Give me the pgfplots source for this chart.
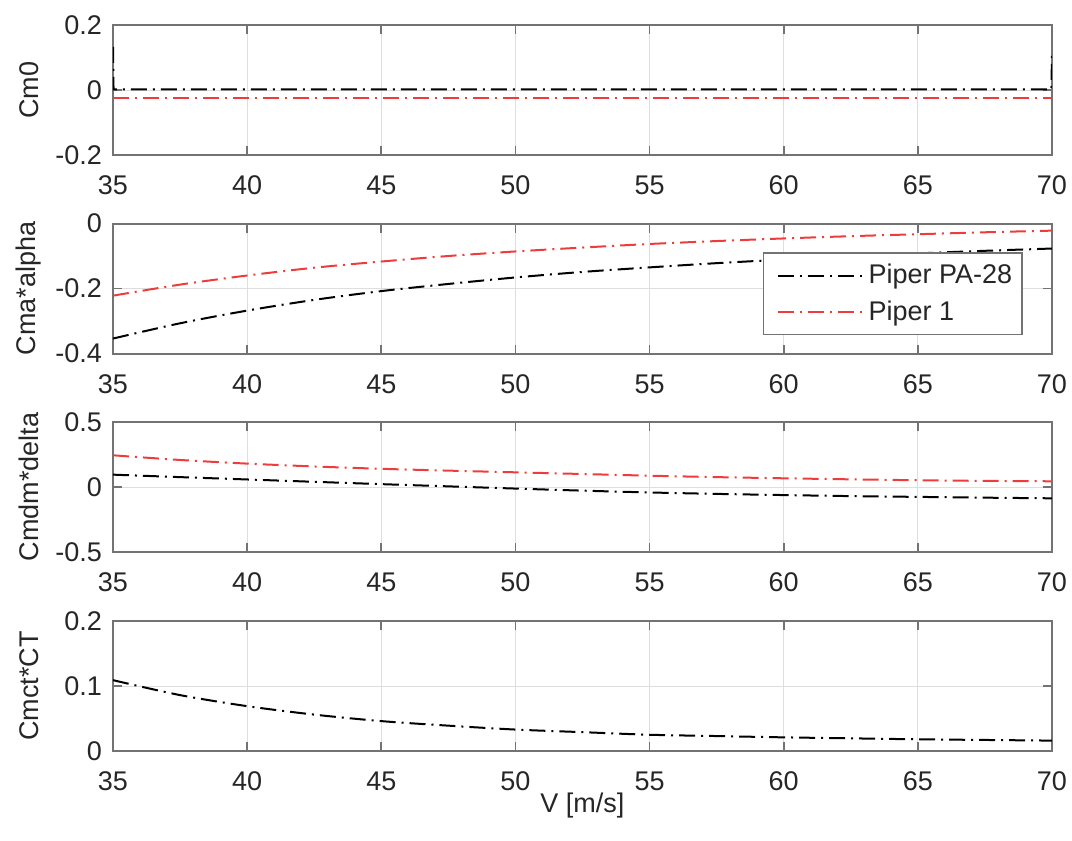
\documentclass[border=0pt]{standalone}
\usepackage{fontspec}
\setmainfont{Liberation Sans}
\usepackage{pgfplots}
\pgfplotsset{compat=1.18}
\definecolor{axgray}{gray}{0.45}
\definecolor{txt}{gray}{0.15}
\definecolor{gridc}{gray}{0.87}
\definecolor{mred}{RGB}{238,60,60}
\tikzset{dd/.style={line width=1pt, dash pattern=on 8pt off 3pt on 1pt off 3pt}}
\pgfplotsset{panel/.style={
  scale only axis, width=469.5pt, height=65pt,
  xmin=35, xmax=70, xtick={35,40,...,70},
  xticklabels={35,40,45,50,55,60,65,70},
  grid=major, major grid style={gridc, line width=0.5pt},
  axis line style={axgray, line width=1pt},
  tick style={axgray, line width=0.8pt},
  major tick length=4.5pt, tick align=inside, xtick pos=both, ytick pos=both,
  ticklabel style={font=\fontsize{13.5}{16}\selectfont, text=txt},
  xticklabel style={yshift=-7pt},
  yticklabel style={xshift=-2pt},
  label style={font=\fontsize{13.5}{16}\selectfont, text=txt},
  ylabel style={at={(axis description cs:-0.0895,0.5)}, anchor=center},
  anchor=north west,
}}
\begin{document}
\begin{tikzpicture}
\useasboundingbox (0,0) rectangle (536pt,-420.5pt);
% Panel 1
\begin{axis}[panel, at={(56.5pt,-12.5pt)}, ymin=-0.2, ymax=0.2,
  ytick={-0.2,0,0.2}, yticklabels={-0.2,0,0.2}, ylabel={Cm0}]
\addplot[dd, black] coordinates {(35,0.133) (35.02,0.002) (69.98,0.002) (70,0.117)};
\addplot[dd, mred] coordinates {(35,-0.026) (70,-0.026)};
\end{axis}
% Panel 2
\begin{axis}[panel, at={(56.5pt,-111.75pt)}, ymin=-0.4, ymax=0,
  ytick={-0.4,-0.2,0}, yticklabels={-0.4,-0.2,0}, ylabel={Cma*alpha},
  legend style={at={(0.969,0.777)}, anchor=north east, draw=axgray, line width=0.8pt,
    font=\fontsize{13.5}{16}\selectfont, text=txt, row sep=3pt, inner xsep=3pt, inner ysep=3.5pt},
  legend cell align=left,
  legend image code/.code={\path (-3.5pt,0pt); \draw[#1] (0pt,0pt) -- (43pt,0pt);}]
\addplot[dd, black, smooth] coordinates {(35,-0.354) (37.5,-0.307) (40,-0.268) (42.5,-0.235) (45,-0.208) (47.5,-0.186) (50,-0.166) (52.5,-0.149) (55,-0.135) (57.5,-0.122) (60,-0.111) (62.5,-0.101) (65,-0.092) (67.5,-0.084) (70,-0.077)};
\addlegendentry{Piper PA-28}
\addplot[dd, mred, smooth] coordinates {(35,-0.222) (37.5,-0.188) (40,-0.160) (42.5,-0.136) (45,-0.117) (47.5,-0.100) (50,-0.086) (52.5,-0.074) (55,-0.063) (57.5,-0.054) (60,-0.046) (62.5,-0.039) (65,-0.033) (67.5,-0.027) (70,-0.022)};
\addlegendentry{Piper 1}
\end{axis}
% Panel 3
\begin{axis}[panel, at={(56.5pt,-211pt)}, ymin=-0.5, ymax=0.5,
  ytick={-0.5,0,0.5}, yticklabels={-0.5,0,0.5}, ylabel={Cmdm*delta}]
\addplot[dd, black, smooth] coordinates {(35,0.095) (37.5,0.076) (40,0.058) (42.5,0.040) (45,0.022) (47.5,0.005) (50,-0.012) (52.5,-0.028) (55,-0.042) (57.5,-0.053) (60,-0.062) (62.5,-0.070) (65,-0.076) (67.5,-0.082) (70,-0.087)};
\addplot[dd, mred, smooth] coordinates {(35,0.244) (37.5,0.208) (40,0.180) (42.5,0.158) (45,0.140) (47.5,0.126) (50,0.113) (52.5,0.100) (55,0.087) (57.5,0.076) (60,0.067) (62.5,0.059) (65,0.052) (67.5,0.047) (70,0.044)};
\end{axis}
% Panel 4
\begin{axis}[panel, at={(56.5pt,-310.5pt)}, ymin=0, ymax=0.2,
  ytick={0,0.1,0.2}, yticklabels={0,0.1,0.2}, ylabel={Cmct*CT},
  xlabel={V [m/s]}, xlabel style={at={(axis description cs:0.5,0)}, anchor=center, yshift=-27.5pt}]
\addplot[dd, black, smooth] coordinates {(35,0.109) (37.5,0.086) (40,0.069) (42.5,0.056) (45,0.046) (47.5,0.039) (50,0.033) (52.5,0.029) (55,0.025) (57.5,0.023) (60,0.021) (62.5,0.0195) (65,0.018) (67.5,0.017) (70,0.016)};
\end{axis}
\end{tikzpicture}
\end{document}
